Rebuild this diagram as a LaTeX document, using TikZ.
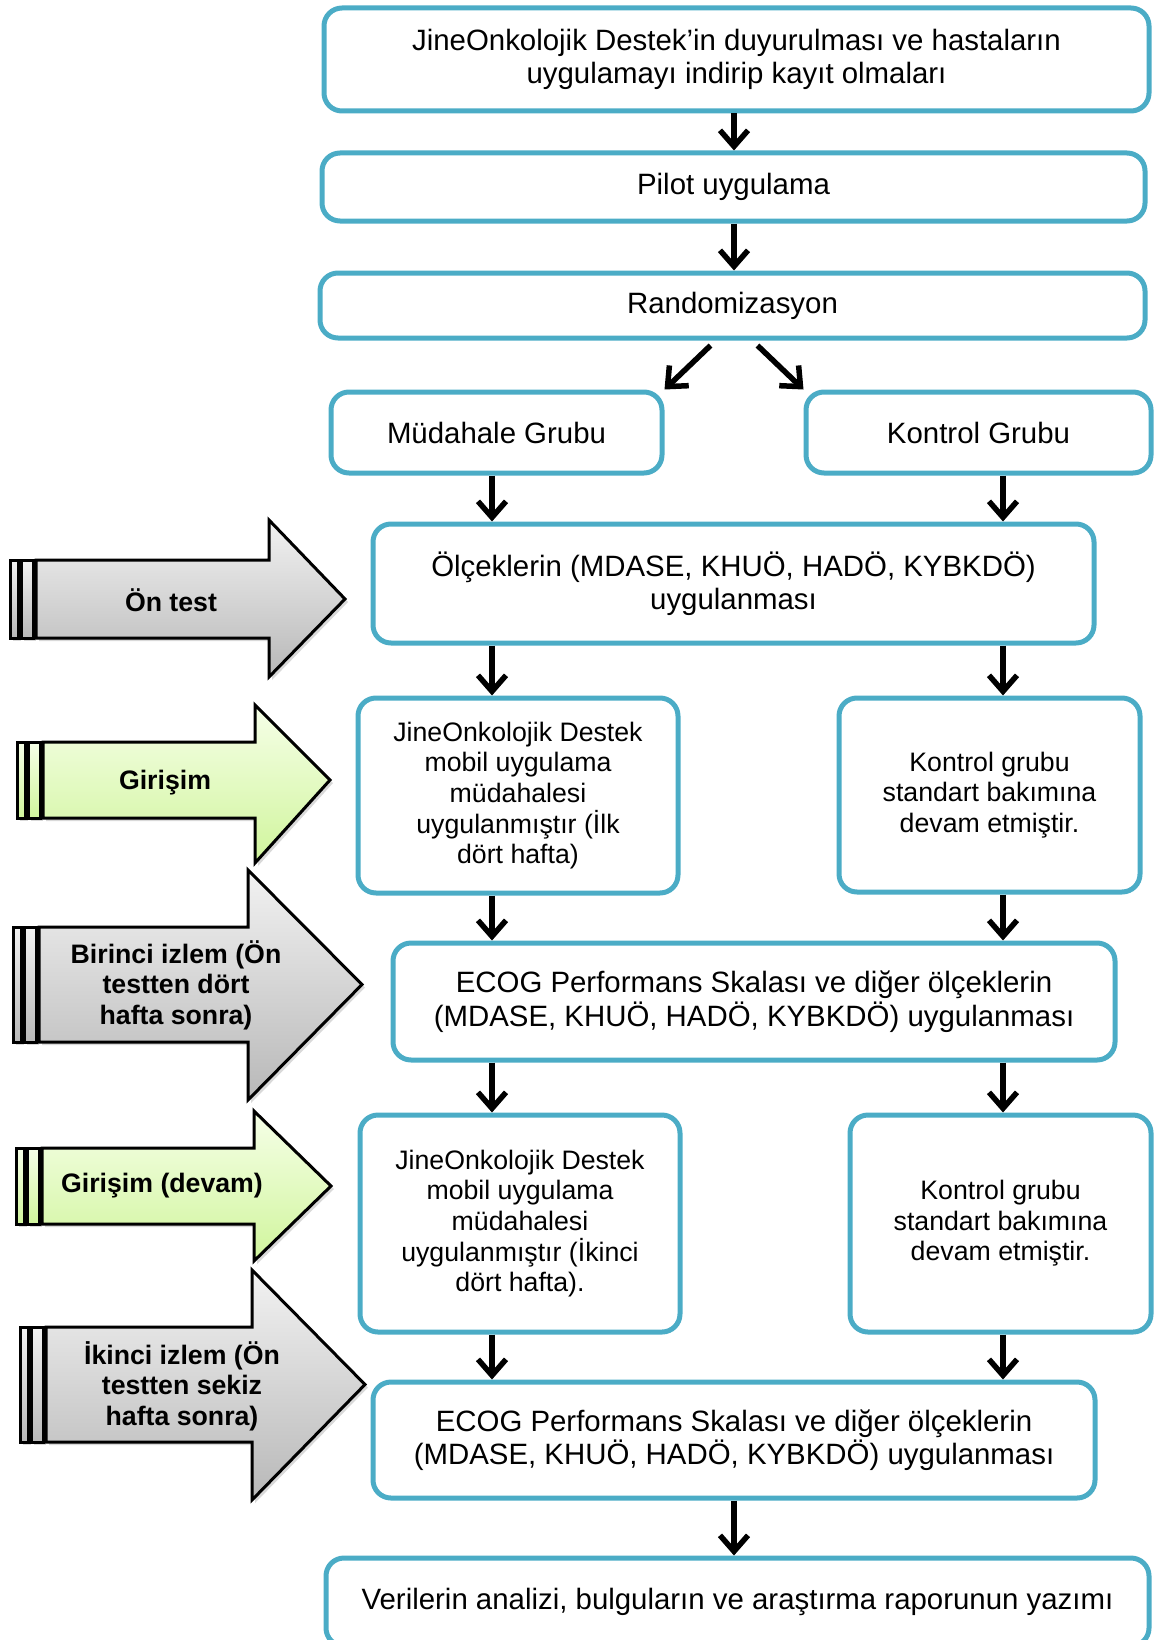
\documentclass[tikz,border=0pt]{standalone}
\usepackage{fontspec}
\setmainfont{Liberation Sans}
\usetikzlibrary{arrows.meta, positioning, shadows}

\definecolor{boxblue}{HTML}{4BACC6}
\definecolor{greytop}{HTML}{F2F2F2}
\definecolor{greybot}{HTML}{B8B8B8}
\definecolor{greentop}{HTML}{F6FFE8}
\definecolor{greenbot}{HTML}{D0F59C}

% striped arrow on the left: left x, body top, body bottom, head base, head top, head bottom, tip x, fill style
\newcommand{\sidearrow}[8]{%
  \path[sidefill, #8] (#1,#2) rectangle (#1+8,#3);
  \path[sidefill, #8] (#1+11,#2) rectangle (#1+23,#3);
  \path[sidefill, #8] (#1+26,#2) -- (#4,#2) -- (#4,#5) -- (#7,{(#2+#3)/2})
    -- (#4,#6) -- (#4,#3) -- (#1+26,#3) -- cycle;
}

\begin{document}
\begin{tikzpicture}[
    x=1pt, y=-1pt,
    stage/.style={draw=boxblue, line width=5pt, rounded corners=18pt,
                  align=center, inner sep=0pt,
                  font=\fontsize{29.4}{33.5}\selectfont},
    narrow/.style={stage, font=\fontsize{26.7}{30.6}\selectfont},
    flow/.style={line width=5.5pt, -{Straight Barb[length=16pt,width=28pt]}},
    sidefill/.style={draw=black, line width=3pt,
                     drop shadow={shadow xshift=3pt, shadow yshift=-3pt, opacity=0.3}},
    greyfill/.style={top color=greytop, bottom color=greybot},
    greenfill/.style={top color=greentop, bottom color=greenbot},
    sidetext/.style={font=\fontsize{26.7}{30.6}\selectfont\bfseries, align=center}
  ]
  \clip (0,0) rectangle (1155,1640);
  \useasboundingbox (0,0) rectangle (1155,1640);

  % columns for the vertical connectors
  \coordinate (mcol) at (734,0);
  \coordinate (lcol) at (492,0);
  \coordinate (rcol) at (1003,0);

  % main flow
  \node[stage, minimum width=825pt, minimum height=103pt] (duyuru) at (736.5,59.5)
    {JineOnkolojik Destek’in duyurulması ve hastaların\\uygulamayı indirip kayıt olmaları};
  \node[stage, minimum width=823pt, minimum height=68pt] (pilot) at (733.5,187) {Pilot uygulama};
  \node[stage, minimum width=825pt, minimum height=65pt] (random) at (732.5,305.5) {Randomizasyon};
  \node[stage, minimum width=331pt, minimum height=81pt] (mudahale) at (496.5,432.5) {Müdahale Grubu};
  \node[stage, minimum width=345pt, minimum height=81pt] (kontrol) at (978.5,432.5) {Kontrol Grubu};
  \node[stage, minimum width=721pt, minimum height=119pt] (ontest) at (733.5,583.5)
    {Ölçeklerin (MDASE, KHUÖ, HADÖ, KYBKDÖ)\\uygulanması};
  \node[narrow, minimum width=320pt, minimum height=195pt] (mudilk) at (518,795.5)
    {JineOnkolojik Destek\\mobil uygulama\\müdahalesi\\uygulanmıştır (İlk\\dört hafta)};
  \node[narrow, minimum width=301pt, minimum height=194pt] (konilk) at (989.5,795)
    {Kontrol grubu\\standart bakımına\\devam etmiştir.};
  \node[stage, minimum width=722pt, minimum height=117pt] (izlemA) at (754,1001.5)
    {ECOG Performans Skalası ve diğer ölçeklerin\\(MDASE, KHUÖ, HADÖ, KYBKDÖ) uygulanması};
  \node[narrow, minimum width=320pt, minimum height=217pt] (mudiki) at (520,1223.5)
    {JineOnkolojik Destek\\mobil uygulama\\müdahalesi\\uygulanmıştır (İkinci\\dört hafta).};
  \node[narrow, minimum width=301pt, minimum height=217pt] (koniki) at (1000.5,1223.5)
    {Kontrol grubu\\standart bakımına\\devam etmiştir.};
  \node[stage, minimum width=722pt, minimum height=116pt] (izlemB) at (734,1440)
    {ECOG Performans Skalası ve diğer ölçeklerin\\(MDASE, KHUÖ, HADÖ, KYBKDÖ) uygulanması};
  \node[stage, minimum width=823pt, minimum height=88pt] (rapor) at (737.5,1602)
    {Verilerin analizi, bulguların ve araştırma raporunun yazımı};

  \draw[flow] (duyuru.south -| mcol) -- (pilot.north -| mcol);
  \draw[flow] (pilot.south -| mcol) -- (random.north -| mcol);
  \draw[flow] ([xshift=-22pt, yshift=-5pt]random.south) -- (mudahale.north east);
  \draw[flow] ([xshift=25pt, yshift=-5pt]random.south) -- (kontrol.north west);
  \draw[flow] (mudahale.south -| lcol) -- (ontest.north -| lcol);
  \draw[flow] (kontrol.south -| rcol) -- (ontest.north -| rcol);
  \draw[flow] (ontest.south -| lcol) -- (mudilk.north -| lcol);
  \draw[flow] (ontest.south -| rcol) -- (konilk.north -| rcol);
  \draw[flow] (mudilk.south -| lcol) -- (izlemA.north -| lcol);
  \draw[flow] (konilk.south -| rcol) -- (izlemA.north -| rcol);
  \draw[flow] (izlemA.south -| lcol) -- (mudiki.north -| lcol);
  \draw[flow] (izlemA.south -| rcol) -- (koniki.north -| rcol);
  \draw[flow] (mudiki.south -| lcol) -- (izlemB.north -| lcol);
  \draw[flow] (koniki.south -| rcol) -- (izlemB.north -| rcol);
  \draw[flow] (izlemB.south -| mcol) -- (rapor.north -| mcol);

  % phases on the left
  \sidearrow{10}{560}{638}{269}{520}{677}{345}{greyfill}
  \sidearrow{17}{742}{818}{255}{705}{863}{330}{greenfill}
  \sidearrow{13}{927}{1042}{248}{870}{1100}{362}{greyfill}
  \sidearrow{16}{1148}{1224}{254}{1111}{1261}{331}{greenfill}
  \sidearrow{20}{1327}{1442}{252}{1270}{1500}{365}{greyfill}

  \node[sidetext] (pre) at (171,600) {Ön test};
  \node[sidetext] (gir) at (165,783) {Girişim};
  \node[sidetext] (izA) at (176,985) {Birinci izlem (Ön\\testten dört\\hafta sonra)};
  \node[sidetext] (girdev) at (162,1186) {Girişim (devam)};
  \node[sidetext] (izB) at (182,1386) {İkinci izlem (Ön\\testten sekiz\\hafta sonra)};
\end{tikzpicture}
\end{document}
